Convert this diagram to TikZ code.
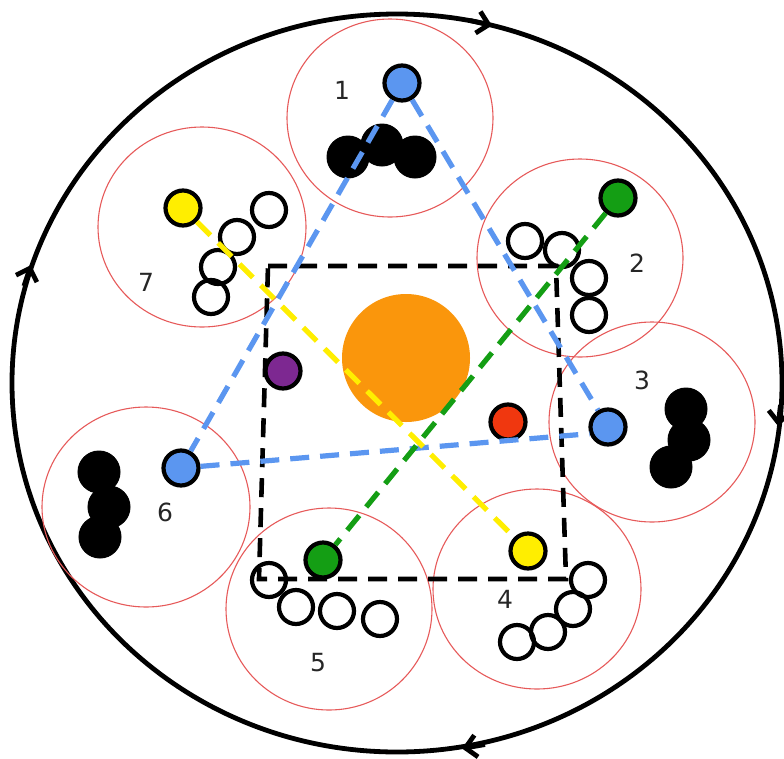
\documentclass[tikz,border=0pt]{standalone}
\usepackage{fontspec}
\setmainfont{DejaVu Sans}
\usetikzlibrary{arrows.meta}
\definecolor{blueC}{RGB}{91,150,240}
\definecolor{greenC}{RGB}{20,158,20}
\definecolor{yellowC}{RGB}{255,238,0}
\definecolor{purpleC}{RGB}{125,40,145}
\definecolor{redC}{RGB}{240,55,15}
\definecolor{orangeC}{RGB}{250,150,12}
\definecolor{ringC}{RGB}{230,90,90}
\tikzset{
  ring/.style={draw=ringC, line width=1.1pt},
  ball/.style={circle, draw=black, line width=4.2pt, minimum size=35pt, inner sep=0pt},
  hollow/.style={circle, draw=black, line width=4.2pt, minimum size=34pt, inner sep=0pt},
  solid/.style={circle, fill=black, draw=black, line width=1pt, minimum size=42pt, inner sep=0pt},
  dashline/.style={line width=5.2pt, dash pattern=on 19pt off 11pt},
  lbl/.style={font=\fontsize{25}{29}\selectfont, text=black!85, inner sep=0pt},
  orbitarrow/.style={line width=4.8pt, -{Straight Barb[length=11pt,width=22pt]}}
}
\begin{document}
\begin{tikzpicture}[x=1pt,y=-1pt]
\useasboundingbox (0,0) rectangle (784,758);
% outer orbit
\draw[line width=4.8pt] (397,383) ellipse [x radius=385pt, y radius=369pt];
\coordinate (ta1) at (470,20.5);
\coordinate (ta2) at (492,25.5);
\draw[orbitarrow] (ta1) -- (ta2);
\coordinate (ra1) at (780.5,405);
\coordinate (ra2) at (778,426);
\draw[orbitarrow] (ra1) -- (ra2);
\coordinate (ba1) at (485,744.5);
\coordinate (ba2) at (462,748.5);
\draw[orbitarrow] (ba1) -- (ba2);
\coordinate (la1) at (24,286);
\coordinate (la2) at (31,265);
\draw[orbitarrow] (la1) -- (la2);
% rings
\draw[ring] (390,118) ellipse [x radius=103pt, y radius=99pt];
\draw[ring] (580,258) ellipse [x radius=103pt, y radius=99pt];
\draw[ring] (652,422) ellipse [x radius=103pt, y radius=100pt];
\draw[ring] (537,589) ellipse [x radius=104pt, y radius=100pt];
\draw[ring] (329,609) ellipse [x radius=103pt, y radius=101pt];
\draw[ring] (146,507) ellipse [x radius=104pt, y radius=100pt];
\draw[ring] (202,227) ellipse [x radius=104pt, y radius=100pt];
% central body
\node[circle, fill=orangeC, minimum size=128pt, inner sep=0pt] (sun) at (406,358) {};
% black clusters
\node[solid] (k1a) at (348,157) {};
\node[solid] (k1b) at (382,145) {};
\node[solid] (k1c) at (415,157) {};
\node[solid] (k3a) at (686,409) {};
\node[solid] (k3b) at (689,440) {};
\node[solid] (k3c) at (671,467) {};
\node[solid] (k6a) at (99,472) {};
\node[solid] (k6b) at (109,507) {};
\node[solid] (k6c) at (100,537) {};
% hollow chains
\node[hollow] (h2a) at (525,241) {};
\node[hollow] (h2b) at (562,250) {};
\node[hollow] (h2c) at (589,278) {};
\node[hollow] (h2d) at (589,315) {};
\node[hollow] (h7a) at (269,210) {};
\node[hollow] (h7b) at (237,237) {};
\node[hollow] (h7c) at (218,267) {};
\node[hollow] (h7d) at (211,297) {};
\node[hollow] (h5a) at (269,580) {};
\node[hollow] (h5b) at (296,607) {};
\node[hollow] (h5c) at (337,611) {};
\node[hollow] (h5d) at (380,619) {};
\node[hollow] (h4a) at (588,580) {};
\node[hollow] (h4b) at (573,609) {};
\node[hollow] (h4c) at (548,632) {};
\node[hollow] (h4d) at (517,642) {};
% coloured bodies
\node[ball, fill=blueC] (b1) at (402,83) {};
\node[ball, fill=greenC] (g2) at (618,198) {};
\node[ball, fill=blueC] (b3) at (608,427) {};
\node[ball, fill=yellowC] (y4) at (528,551) {};
\node[ball, fill=greenC] (g5) at (323,560) {};
\node[ball, fill=blueC] (b6) at (181,468) {};
\node[ball, fill=yellowC] (y7) at (183,208) {};
\node[ball, fill=purpleC] (pm) at (283,371) {};
\node[ball, fill=redC] (rm) at (508,422) {};
% dashed frame
\coordinate (q1) at (268,266);
\coordinate (q2) at (556,266);
\coordinate (q3) at (566,579);
\coordinate (q4) at (259,579);
\draw[dashline, draw=black, line width=4.6pt] (q1) -- (q2) -- (q3) -- (q4) -- cycle;
% dashed links
\draw[dashline, draw=blueC] (b1) -- (b3);
\draw[dashline, draw=blueC] (b1) -- (b6);
\draw[dashline, draw=blueC] (b6) -- (b3.200);
\draw[dashline, draw=yellowC] (y7) -- (y4);
\draw[dashline, draw=greenC] (g2) -- (g5);
% labels
\node[lbl] (l1) at (342,90) {1};
\node[lbl] (l2) at (637,263) {2};
\node[lbl] (l3) at (642,380) {3};
\node[lbl] (l4) at (505,599) {4};
\node[lbl] (l5) at (318,663) {5};
\node[lbl] (l6) at (165,512) {6};
\node[lbl] (l7) at (146,282) {7};
\end{tikzpicture}
\end{document}
